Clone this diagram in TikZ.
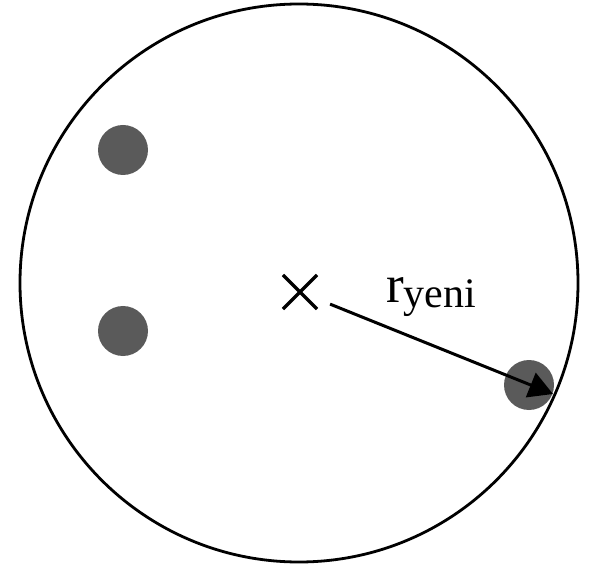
\documentclass[tikz,border=0pt]{standalone}
\usepackage{fontspec}
\setmainfont{Liberation Serif}
\usetikzlibrary{arrows.meta,shapes.misc}
\definecolor{DotGray}{HTML}{5A5A5A}

\begin{document}
\begin{tikzpicture}[x=1pt,y=-1pt,
    dot/.style={circle,fill=DotGray,minimum size=50pt,inner sep=0pt},
    centermark/.style={cross out,draw=black,line width=3.2pt,minimum size=31pt,inner sep=0pt}]
  \useasboundingbox (0,0) rectangle (589,569);
  \draw[line width=2.8pt] (299,283) circle[radius=279];
  \node[dot] (dota) at (123,150) {};
  \node[dot] (dotb) at (123,331) {};
  \node[dot] (dotc) at (529,385) {};
  \node[centermark] (cmark) at (300,292) {};
  \coordinate (rim) at (553,394);
  \draw[line width=3pt,-{Triangle[length=24pt,width=26pt]},shorten <=14pt] (cmark) -- (rim);
  \node[anchor=base west,inner sep=0pt,font=\fontsize{53}{53}\selectfont] (rlabel) at (386,303)
    {r\raisebox{-5pt}{\fontsize{42}{42}\selectfont yeni}};
\end{tikzpicture}
\end{document}
